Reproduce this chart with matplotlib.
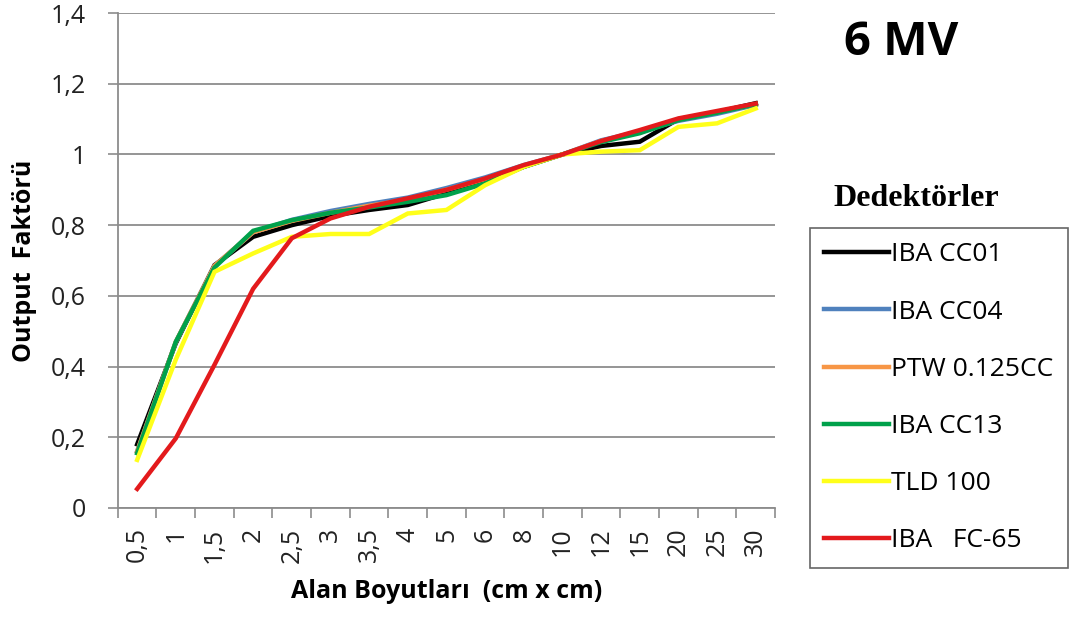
import numpy as np
import matplotlib.pyplot as plt
from matplotlib.ticker import FuncFormatter

# Field sizes (cm x cm) and output factors per detector
alan = ["0,5", "1", "1,5", "2", "2,5", "3", "3,5", "4", "5", "6", "8",
        "10", "12", "15", "20", "25", "30"]

iba_cc01 = [0.180, 0.466, 0.687, 0.767, 0.800, 0.826, 0.843, 0.857, 0.890, 0.925,
            0.965, 1.000, 1.024, 1.036, 1.100, 1.120, 1.145]
iba_cc04 = [0.160, 0.470, 0.685, 0.780, 0.815, 0.840, 0.860, 0.878, 0.905, 0.935,
            0.970, 1.000, 1.040, 1.065, 1.095, 1.115, 1.140]
ptw_0125 = [0.160, 0.470, 0.685, 0.780, 0.812, 0.835, 0.855, 0.872, 0.900, 0.930,
            0.968, 1.000, 1.038, 1.062, 1.098, 1.120, 1.142]
iba_cc13 = [0.155, 0.470, 0.680, 0.784, 0.814, 0.835, 0.850, 0.866, 0.885, 0.918,
            0.965, 1.000, 1.035, 1.060, 1.097, 1.118, 1.142]
tld_100 = [0.136, 0.420, 0.668, 0.720, 0.767, 0.775, 0.775, 0.833, 0.843, 0.913,
           0.965, 1.000, 1.008, 1.012, 1.078, 1.088, 1.130]
iba_fc65 = [0.054, 0.197, 0.405, 0.620, 0.763, 0.819, 0.852, 0.876, 0.900, 0.932,
            0.970, 1.000, 1.038, 1.069, 1.102, 1.123, 1.144]

seriler = [
    ("IBA CC01", iba_cc01, "#000000"),
    ("IBA CC04", iba_cc04, "#4f81bd"),
    ("PTW 0.125CC", ptw_0125, "#f79646"),
    ("IBA CC13", iba_cc13, "#00a14b"),
    ("TLD 100", tld_100, "#ffff1a"),
    ("IBA   FC-65", iba_fc65, "#e31a1c"),
]

plt.rcParams['font.family'] = ['Open Sans', 'DejaVu Sans']

fig = plt.figure(figsize=(10.81, 6.21), dpi=100)
ax = fig.add_axes([0.109, 0.182, 0.608, 0.797])

x = np.arange(len(alan))
for ad, deger, renk in seriler:
    ax.plot(x, deger, color=renk, lw=3.2, label=ad, solid_joinstyle='miter')

ax.set_xlim(-0.5, len(alan) - 0.5)
ax.set_ylim(0, 1.4)
ax.set_yticks(np.arange(0, 1.41, 0.2))
ax.yaxis.set_major_formatter(FuncFormatter(lambda v, p: f"{v:g}".replace(".", ",")))
ax.set_xticks(x)
ax.set_xticklabels(alan, rotation=90, fontsize=18)
ax.set_xticks(np.arange(-0.5, len(alan), 1), minor=True)
ax.tick_params(axis='x', which='major', length=0, pad=14, colors='#222222')
ax.tick_params(axis='x', which='minor', length=7, color='#8c8c8c', width=1.2)
ax.tick_params(axis='y', length=7, color='#8c8c8c', width=1.2, labelsize=18,
               labelcolor='#222222', pad=16)

ax.grid(axis='y', color='#8c8c8c', lw=1.3)
ax.set_axisbelow(True)
for s in ['top', 'right']:
    ax.spines[s].set_visible(False)
for s in ['left', 'bottom']:
    ax.spines[s].set_color('#8c8c8c')
    ax.spines[s].set_linewidth(1.3)

ax.set_xlabel("Alan Boyutları  (cm x cm)", fontsize=18, fontweight='bold', labelpad=12)
ax.set_ylabel("Output  Faktörü", fontsize=18, fontweight='bold', labelpad=10)

fig.text(0.834, 0.932, "6 MV", fontsize=34, fontweight='bold', ha='center', va='center')
fig.text(0.848, 0.681, "Dedektörler", fontsize=23, fontweight='bold',
         family='Liberation Serif', ha='center', va='center')

leg = ax.legend(loc='upper left', bbox_to_anchor=(0.749, 0.633),
                bbox_transform=fig.transFigure, frameon=True, fancybox=False,
                edgecolor='#404040', fontsize=19, handlelength=2.45,
                handletextpad=0.1, labelspacing=1.22, borderpad=0.55,
                borderaxespad=0)
leg.get_frame().set_linewidth(1.2)

fig.savefig("out.png", dpi=100)
